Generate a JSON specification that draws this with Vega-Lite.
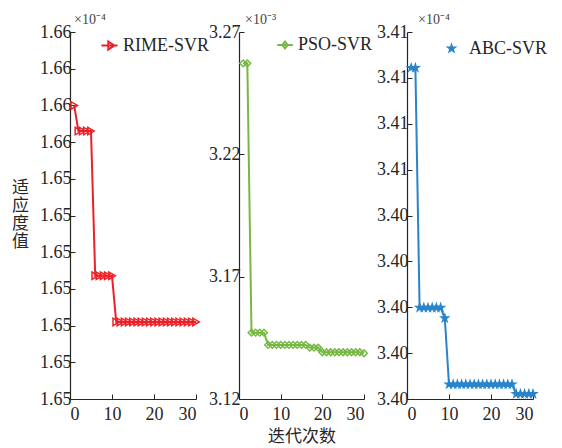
{
  "$schema": "https://vega.github.io/schema/vega-lite/v6.json",
  "padding": {"left": 11, "top": 13, "right": 5, "bottom": 2},
  "background": "white",
  "spacing": 43,
  "bounds": "flush",
  "resolve": {"scale": {"color": "independent"}, "legend": {"color": "independent"}},
  "config": {
    "view": {"stroke": null},
    "font": "Liberation Serif",
    "axis": {
      "grid": false,
      "domainColor": "#262626",
      "tickColor": "#262626",
      "labelColor": "#262626",
      "labelFont": "Liberation Serif",
      "labelFontSize": 18,
      "tickSize": -5,
      "tickWidth": 1,
      "domainWidth": 1.2,
      "labelPadding": 4,
      "titleFont": "Noto Sans CJK SC",
      "titleFontWeight": "normal",
      "titleFontSize": 17,
      "titleColor": "#262626"
    },
    "axisX": {"labelPadding": 11},
    "legend": {
      "labelFont": "Liberation Serif",
      "labelFontSize": 18,
      "labelColor": "#262626",
      "orient": "none"
    },
    "title": {
      "font": "Liberation Serif",
      "fontSize": 14,
      "fontWeight": "normal",
      "color": "#444444",
      "anchor": "start",
      "frame": "group",
      "offset": -4
    }
  },
  "hconcat": [
    {
      "width": 126,
      "height": 367,
      "title": {"text": "×10⁻⁴", "dx": 4},
      "data": {"values": [
        {"model": "RIME-SVR", "iter": 1, "fitness": 1.6555},
        {"model": "RIME-SVR", "iter": 2, "fitness": 1.65515},
        {"model": "RIME-SVR", "iter": 3, "fitness": 1.65515},
        {"model": "RIME-SVR", "iter": 4, "fitness": 1.65515},
        {"model": "RIME-SVR", "iter": 5, "fitness": 1.65515},
        {"model": "RIME-SVR", "iter": 6, "fitness": 1.65318},
        {"model": "RIME-SVR", "iter": 7, "fitness": 1.65318},
        {"model": "RIME-SVR", "iter": 8, "fitness": 1.65318},
        {"model": "RIME-SVR", "iter": 9, "fitness": 1.65318},
        {"model": "RIME-SVR", "iter": 10, "fitness": 1.65318},
        {"model": "RIME-SVR", "iter": 11, "fitness": 1.65255},
        {"model": "RIME-SVR", "iter": 12, "fitness": 1.65255},
        {"model": "RIME-SVR", "iter": 13, "fitness": 1.65255},
        {"model": "RIME-SVR", "iter": 14, "fitness": 1.65255},
        {"model": "RIME-SVR", "iter": 15, "fitness": 1.65255},
        {"model": "RIME-SVR", "iter": 16, "fitness": 1.65255},
        {"model": "RIME-SVR", "iter": 17, "fitness": 1.65255},
        {"model": "RIME-SVR", "iter": 18, "fitness": 1.65255},
        {"model": "RIME-SVR", "iter": 19, "fitness": 1.65255},
        {"model": "RIME-SVR", "iter": 20, "fitness": 1.65255},
        {"model": "RIME-SVR", "iter": 21, "fitness": 1.65255},
        {"model": "RIME-SVR", "iter": 22, "fitness": 1.65255},
        {"model": "RIME-SVR", "iter": 23, "fitness": 1.65255},
        {"model": "RIME-SVR", "iter": 24, "fitness": 1.65255},
        {"model": "RIME-SVR", "iter": 25, "fitness": 1.65255},
        {"model": "RIME-SVR", "iter": 26, "fitness": 1.65255},
        {"model": "RIME-SVR", "iter": 27, "fitness": 1.65255},
        {"model": "RIME-SVR", "iter": 28, "fitness": 1.65255},
        {"model": "RIME-SVR", "iter": 29, "fitness": 1.65255},
        {"model": "RIME-SVR", "iter": 30, "fitness": 1.65255}
      ]},
      "encoding": {
        "x": {"field": "iter", "type": "quantitative", "scale": {"domain": [0, 30], "nice": false}, "axis": {"values": [0, 10, 20, 30], "title": null}},
        "y": {"field": "fitness", "type": "quantitative", "scale": {"domain": [1.6515, 1.6565], "nice": false, "zero": false},
          "axis": {"values": [1.6515, 1.652, 1.6525, 1.653, 1.6535, 1.654, 1.6545, 1.655, 1.6555, 1.656, 1.6565],
            "labelExpr": "datum.value > 1.65495 ? '1.66' : '1.65'",
            "title": ["适", "应", "度", "值"], "titleAngle": 0, "titleX": -50, "titleY": 147,
            "titleAlign": "center", "titleBaseline": "top", "titleLineHeight": 18}}
      },
      "layer": [
        {"mark": {"type": "line", "color": "#EC2027", "strokeWidth": 2}},
        {"mark": {"type": "point", "shape": "triangle-right", "filled": false, "strokeWidth": 1.5, "size": 55, "opacity": 1},
          "encoding": {"color": {"field": "model", "type": "nominal", "scale": {"domain": ["RIME-SVR"], "range": ["#EC2027"]},
            "legend": {"title": null, "legendX": 30, "legendY": 4, "symbolType": "M-1,0H1M-0.15,-0.5L0.6,0L-0.15,0.5Z", "symbolSize": 260, "symbolStrokeWidth": 2, "labelOffset": 4}}}}
      ]
    },
    {
      "width": 125,
      "height": 367,
      "title": {"text": "×10⁻³", "dx": 6},
      "data": {"values": [
        {"model": "PSO-SVR", "iter": 1, "fitness": 3.2572},
        {"model": "PSO-SVR", "iter": 2, "fitness": 3.2572},
        {"model": "PSO-SVR", "iter": 3, "fitness": 3.1471},
        {"model": "PSO-SVR", "iter": 4, "fitness": 3.1471},
        {"model": "PSO-SVR", "iter": 5, "fitness": 3.1471},
        {"model": "PSO-SVR", "iter": 6, "fitness": 3.1471},
        {"model": "PSO-SVR", "iter": 7, "fitness": 3.1421},
        {"model": "PSO-SVR", "iter": 8, "fitness": 3.1421},
        {"model": "PSO-SVR", "iter": 9, "fitness": 3.1421},
        {"model": "PSO-SVR", "iter": 10, "fitness": 3.1421},
        {"model": "PSO-SVR", "iter": 11, "fitness": 3.1421},
        {"model": "PSO-SVR", "iter": 12, "fitness": 3.1421},
        {"model": "PSO-SVR", "iter": 13, "fitness": 3.1421},
        {"model": "PSO-SVR", "iter": 14, "fitness": 3.1421},
        {"model": "PSO-SVR", "iter": 15, "fitness": 3.1421},
        {"model": "PSO-SVR", "iter": 16, "fitness": 3.1421},
        {"model": "PSO-SVR", "iter": 17, "fitness": 3.141},
        {"model": "PSO-SVR", "iter": 18, "fitness": 3.141},
        {"model": "PSO-SVR", "iter": 19, "fitness": 3.141},
        {"model": "PSO-SVR", "iter": 20, "fitness": 3.1391},
        {"model": "PSO-SVR", "iter": 21, "fitness": 3.1391},
        {"model": "PSO-SVR", "iter": 22, "fitness": 3.1391},
        {"model": "PSO-SVR", "iter": 23, "fitness": 3.1391},
        {"model": "PSO-SVR", "iter": 24, "fitness": 3.1391},
        {"model": "PSO-SVR", "iter": 25, "fitness": 3.1391},
        {"model": "PSO-SVR", "iter": 26, "fitness": 3.1391},
        {"model": "PSO-SVR", "iter": 27, "fitness": 3.1391},
        {"model": "PSO-SVR", "iter": 28, "fitness": 3.1391},
        {"model": "PSO-SVR", "iter": 29, "fitness": 3.1391},
        {"model": "PSO-SVR", "iter": 30, "fitness": 3.1387}
      ]},
      "encoding": {
        "x": {"field": "iter", "type": "quantitative", "scale": {"domain": [0, 30], "nice": false}, "axis": {"values": [0, 10, 20, 30], "title": "迭代次数", "titlePadding": 5}},
        "y": {"field": "fitness", "type": "quantitative", "scale": {"domain": [3.12, 3.27], "nice": false, "zero": false},
          "axis": {"values": [3.12, 3.17, 3.22, 3.27], "format": ".2f", "title": null}}
      },
      "layer": [
        {"mark": {"type": "line", "color": "#77B843", "strokeWidth": 2}},
        {"mark": {"type": "point", "shape": "diamond", "filled": false, "strokeWidth": 1.5, "size": 45, "opacity": 1},
          "encoding": {"color": {"field": "model", "type": "nominal", "scale": {"domain": ["PSO-SVR"], "range": ["#77B843"]},
            "legend": {"title": null, "legendX": 37, "legendY": 4, "symbolType": "M-1,0H1M0,-0.45L0.35,0L0,0.45L-0.35,0Z", "symbolSize": 240, "symbolStrokeWidth": 2, "labelOffset": 4}}}}
      ]
    },
    {
      "width": 126,
      "height": 367,
      "title": {"text": "×10⁻⁴", "dx": 11},
      "data": {"values": [
        {"model": "ABC-SVR", "iter": 1, "fitness": 3.40722},
        {"model": "ABC-SVR", "iter": 2, "fitness": 3.40722},
        {"model": "ABC-SVR", "iter": 3, "fitness": 3.40199},
        {"model": "ABC-SVR", "iter": 4, "fitness": 3.40199},
        {"model": "ABC-SVR", "iter": 5, "fitness": 3.40199},
        {"model": "ABC-SVR", "iter": 6, "fitness": 3.40199},
        {"model": "ABC-SVR", "iter": 7, "fitness": 3.40199},
        {"model": "ABC-SVR", "iter": 8, "fitness": 3.40199},
        {"model": "ABC-SVR", "iter": 9, "fitness": 3.40176},
        {"model": "ABC-SVR", "iter": 10, "fitness": 3.40032},
        {"model": "ABC-SVR", "iter": 11, "fitness": 3.40032},
        {"model": "ABC-SVR", "iter": 12, "fitness": 3.40032},
        {"model": "ABC-SVR", "iter": 13, "fitness": 3.40032},
        {"model": "ABC-SVR", "iter": 14, "fitness": 3.40032},
        {"model": "ABC-SVR", "iter": 15, "fitness": 3.40032},
        {"model": "ABC-SVR", "iter": 16, "fitness": 3.40032},
        {"model": "ABC-SVR", "iter": 17, "fitness": 3.40032},
        {"model": "ABC-SVR", "iter": 18, "fitness": 3.40032},
        {"model": "ABC-SVR", "iter": 19, "fitness": 3.40032},
        {"model": "ABC-SVR", "iter": 20, "fitness": 3.40032},
        {"model": "ABC-SVR", "iter": 21, "fitness": 3.40032},
        {"model": "ABC-SVR", "iter": 22, "fitness": 3.40032},
        {"model": "ABC-SVR", "iter": 23, "fitness": 3.40032},
        {"model": "ABC-SVR", "iter": 24, "fitness": 3.40032},
        {"model": "ABC-SVR", "iter": 25, "fitness": 3.40032},
        {"model": "ABC-SVR", "iter": 26, "fitness": 3.40011},
        {"model": "ABC-SVR", "iter": 27, "fitness": 3.40011},
        {"model": "ABC-SVR", "iter": 28, "fitness": 3.40011},
        {"model": "ABC-SVR", "iter": 29, "fitness": 3.40011},
        {"model": "ABC-SVR", "iter": 30, "fitness": 3.40011}
      ]},
      "encoding": {
        "x": {"field": "iter", "type": "quantitative", "scale": {"domain": [0, 30], "nice": false}, "axis": {"values": [0, 10, 20, 30], "title": null}},
        "y": {"field": "fitness", "type": "quantitative", "scale": {"domain": [3.4, 3.408], "nice": false, "zero": false},
          "axis": {"values": [3.4, 3.401, 3.402, 3.403, 3.404, 3.405, 3.406, 3.407, 3.408],
            "labelExpr": "datum.value > 3.40495 ? '3.41' : '3.40'", "title": null}}
      },
      "layer": [
        {"mark": {"type": "line", "color": "#2A84C9", "strokeWidth": 2}},
        {"mark": {"type": "point", "shape": "M0,-1L0.2245,-0.309L0.951,-0.309L0.363,0.118L0.588,0.809L0,0.382L-0.588,0.809L-0.363,0.118L-0.951,-0.309L-0.2245,-0.309Z", "filled": true, "strokeWidth": 1, "size": 150, "opacity": 1},
          "encoding": {"color": {"field": "model", "type": "nominal", "scale": {"domain": ["ABC-SVR"], "range": ["#2A84C9"]},
            "legend": {"title": null, "legendX": 33, "legendY": 5, "symbolType": "M-1,0H1M0,-0.62L0.139,-0.19L0.59,-0.19L0.225,0.073L0.364,0.5L0,0.237L-0.364,0.5L-0.225,0.073L-0.59,-0.19L-0.139,-0.19Z", "symbolSize": 420, "symbolStrokeWidth": 2, "labelOffset": 6}}}}
      ]
    }
  ]
}
